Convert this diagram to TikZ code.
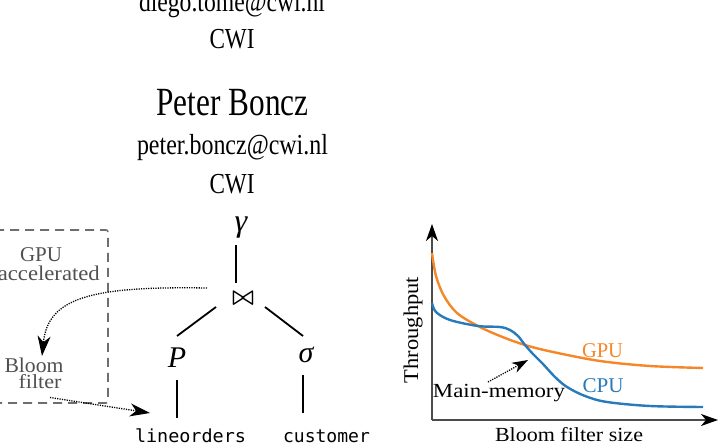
\documentclass[tikz,border=0pt]{standalone}
\usepackage{fontspec}
\setmainfont{Liberation Serif}
\setmonofont{DejaVu Sans Mono}
\usetikzlibrary{arrows.meta}
\definecolor{cgpu}{RGB}{245,135,40}
\definecolor{ccpu}{RGB}{40,122,186}
\definecolor{txtgray}{RGB}{80,80,80}
\definecolor{boxgray}{RGB}{110,110,110}
\newcommand\fitw[3]{\resizebox{#1pt}{\height}{\fontsize{#2}{#2}\selectfont #3}}
\begin{document}
\begin{tikzpicture}[x=1pt,y=-1pt,
  lbl/.style={inner sep=0pt,anchor=base},
  tree/.style={line width=1.8pt},
  dotarrow/.style={line width=1.3pt,dash pattern=on 1.2pt off 1.2pt,
     -{Stealth[length=20pt,width=13pt,inset=6pt]}},
  dashbox/.style={boxgray,line width=1.6pt,dash pattern=on 9pt off 6pt},
  axis/.style={black!70,line width=1.5pt,-{Stealth[length=17pt,width=12pt,inset=5pt,black]}},
  curve/.style={line width=2.4pt}]
\useasboundingbox (0,0) rectangle (718,444);
% header
\node[lbl] (mail1) at (232,12) {\fitw{186}{29}{diego.tome@cwi.nl}};
\node[lbl] (cwi1) at (232,49) {\fitw{45}{29}{CWI}};
\node[lbl] (name) at (232.5,116) {\fitw{152}{40}{Peter Boncz}};
\node[lbl] (mail2) at (232.5,154) {\fitw{191}{29}{peter.boncz@cwi.nl}};
\node[lbl] (cwi2) at (232,193) {\fitw{45}{29}{CWI}};
% left box
\draw[dashbox,rounded corners=2pt] (-20,230) -| (108,403) -- (-20,403);
\node[lbl,txtgray] (gpu) at (41,261) {\fitw{42}{21}{GPU}};
\node[lbl,txtgray,anchor=base east] (acc) at (100,280) {\fitw{102}{21}{accelerated}};
\node[lbl,txtgray] (bloom) at (34,372) {\fitw{59}{21}{Bloom}};
\node[lbl,txtgray] (filter) at (40,388.5) {\fitw{43}{20}{filter}};
% tree
\node[lbl] (gamma) at (241,231) {\fontsize{32}{32}\selectfont\itshape γ};
\node[inner sep=0pt] (join) at (243,298.5) {\resizebox{22pt}{12pt}{\boldmath$\bowtie$}};
\node[lbl] (P) at (177,367) {\fontsize{30}{30}\selectfont\itshape P};
\node[lbl] (sigma) at (306,362) {\fontsize{30}{30}\selectfont\itshape σ};
\node[lbl] (lineorders) at (190.5,442) {\fitw{111}{18}{\ttfamily lineorders}};
\node[lbl] (customer) at (326.5,442) {\fitw{87}{18}{\ttfamily customer}};
\draw[tree] ([shift={(-5,14)}]gamma.base) -- ([shift={(-7,-15.5)}]join.center);
\draw[tree] ([shift={(-27,8.5)}]join.center) -- ([shift={(0,-31)}]P.base);
\draw[tree] ([shift={(22,8.5)}]join.center) -- ([shift={(-3,-26)}]sigma.base);
\draw[tree] ([shift={(0,13)}]P.base) -- ([shift={(-13.5,-24)}]lineorders.base);
\draw[tree] ([shift={(-3,13)}]sigma.base) -- ([shift={(-23.5,-29)}]customer.base);
\draw[dotarrow] ([shift={(-36,-10.5)}]join.center) .. controls (90,286) and (48,298) .. ([shift={(8,-16)}]bloom.base);
\draw[dotarrow] ([shift={(10,9)}]filter.base) -- ([shift={(-40.5,-29)}]lineorders.base);
% chart
\coordinate (origin) at (432,420);
\coordinate (ytip) at (432,224);
\coordinate (xtip) at (718,420);
\draw[axis] (origin) -- (ytip);
\draw[axis] (origin) -- (xtip);
\node[lbl,rotate=90] (thr) at (418,330) {\fitw{106}{21}{Throughput}};
\node[lbl] (xlab) at (569,441) {\fitw{148}{20}{Bloom filter size}};
\draw[curve,cgpu] plot[smooth,tension=0.55] coordinates {(432,253) (436,276) (444,296) (457,313) (478,326) (500,336) (525,345) (553,352) (600,361) (650,366) (703,368)};
\draw[curve,ccpu] plot[smooth,tension=0.55] coordinates {(432,303) (436,312) (450,320) (478,326) (500,327) (510,330) (518,336) (525,345) (533,354) (543,364) (555,377) (567,387) (585,396) (607,402) (650,406) (703,407)};
\node[lbl,cgpu] (gpul) at (602.5,357) {\fitw{41}{21}{GPU}};
\node[lbl,ccpu] (cpul) at (603,392) {\fitw{41}{21}{CPU}};
\node[lbl] (mm) at (499,397) {\fitw{132}{20}{Main-memory}};
\coordinate (mmtip) at (528,360);
\draw[dotarrow,-{Stealth[length=16pt,width=11pt,inset=5pt]}] ([shift={(-11,-15)}]mm.base) -- (mmtip);
\end{tikzpicture}
\end{document}
